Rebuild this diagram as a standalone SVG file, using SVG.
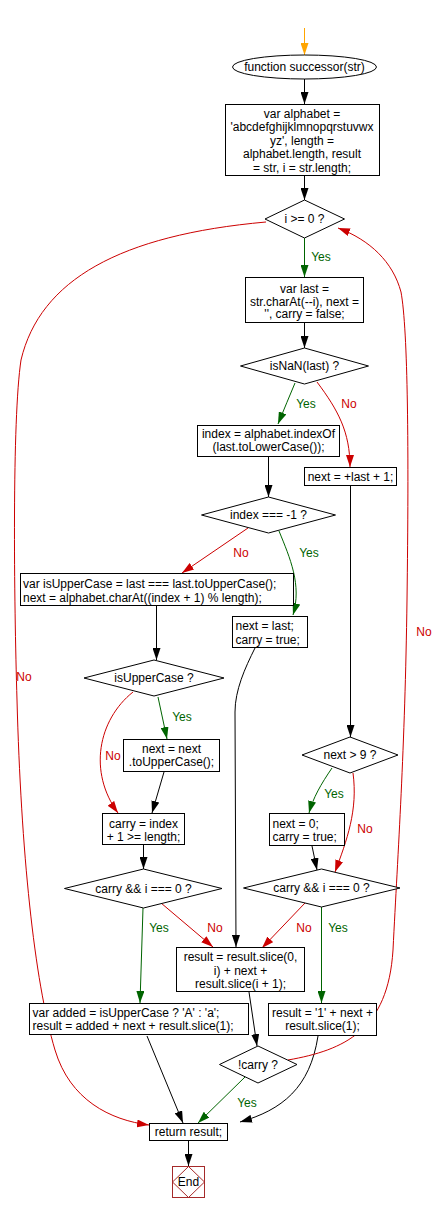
<svg xmlns="http://www.w3.org/2000/svg" width="437" height="1212" viewBox="0 0 437 1212">
<style>
text{font-family:"Liberation Sans",Arial,sans-serif;font-size:12px;fill:#000}
.c{text-anchor:middle}
.s{fill:#fff;stroke:#000;stroke-width:1}
.k{fill:none;stroke:#000;stroke-width:1}
.g{fill:none;stroke:#006400;stroke-width:1}
.r{fill:none;stroke:#cc0000;stroke-width:1}
.o{fill:none;stroke:#ffa500;stroke-width:1}
.gl{fill:#006400;text-anchor:middle}
.rl{fill:#cc0000;text-anchor:middle}
</style>
<defs>
<marker id="ak" viewBox="0 0 12 8" refX="12" refY="4" markerWidth="12" markerHeight="8" markerUnits="userSpaceOnUse" orient="auto"><path d="M0,0 L12,4 L0,8 z" fill="#000"/></marker>
<marker id="ag" viewBox="0 0 12 8" refX="12" refY="4" markerWidth="12" markerHeight="8" markerUnits="userSpaceOnUse" orient="auto"><path d="M0,0 L12,4 L0,8 z" fill="#006400"/></marker>
<marker id="ar" viewBox="0 0 12 8" refX="12" refY="4" markerWidth="12" markerHeight="8" markerUnits="userSpaceOnUse" orient="auto"><path d="M0,0 L12,4 L0,8 z" fill="#cc0000"/></marker>
<marker id="ao" viewBox="0 0 12 8" refX="12" refY="4" markerWidth="12" markerHeight="8" markerUnits="userSpaceOnUse" orient="auto"><path d="M0,0 L12,4 L0,8 z" fill="#ffa500"/></marker>
</defs>
<rect width="437" height="1212" fill="#fff"/>

<g id="connectors">
<path class="o" d="M304.5,28 L304.5,55" marker-end="url(#ao)"/>
<path class="k" d="M304.5,79 L304.5,104" marker-end="url(#ak)"/>
<path class="k" d="M304.5,176 L304.5,200" marker-end="url(#ak)"/>
<path class="g" d="M304.5,238 L304.5,277" marker-end="url(#ag)"/>
<text class="gl" x="321" y="261">Yes</text>
<path class="k" d="M304.5,323 L304.5,348" marker-end="url(#ak)"/>
<path class="g" d="M295,383 Q287,402 278,424" marker-end="url(#ag)"/>
<text class="gl" x="306" y="408">Yes</text>
<path class="r" d="M317,382 C338,410 350,432 350,467" marker-end="url(#ar)"/>
<text class="rl" x="349" y="408">No</text>
<path class="k" d="M268.5,457 L268.5,497" marker-end="url(#ak)"/>
<path class="r" d="M248,528 L182,573" marker-end="url(#ar)"/>
<text class="rl" x="241" y="557">No</text>
<path class="g" d="M279,531 C290,558 302,585 293,615" marker-end="url(#ag)"/>
<text class="gl" x="309" y="557">Yes</text>
<path class="k" d="M156.5,606 L156.5,660" marker-end="url(#ak)"/>
<path class="g" d="M158,697 L167,739" marker-end="url(#ag)"/>
<text class="gl" x="182" y="721">Yes</text>
<path class="r" d="M133,692 C98,720 88,772 118,813" marker-end="url(#ar)"/>
<text class="rl" x="113" y="760">No</text>
<path class="k" d="M164,772 L152,813" marker-end="url(#ak)"/>
<path class="k" d="M143.5,845 L143.5,869" marker-end="url(#ak)"/>
<path class="g" d="M143,908 L140,1003" marker-end="url(#ag)"/>
<text class="gl" x="159" y="932">Yes</text>
<path class="r" d="M161,903 L213,947" marker-end="url(#ar)"/>
<text class="rl" x="215" y="932">No</text>
<path class="k" d="M255,648 C245,668 235,690 235,712 L236,947" marker-end="url(#ak)"/>
<path class="k" d="M350.5,486 L350.5,737" marker-end="url(#ak)"/>
<path class="g" d="M332,768 C321,784 313,798 309,813" marker-end="url(#ag)"/>
<text class="gl" x="334" y="798">Yes</text>
<path class="r" d="M353,773 C358,810 347,840 335,872" marker-end="url(#ar)"/>
<text class="rl" x="365" y="833">No</text>
<path class="k" d="M312,846 L317,870" marker-end="url(#ak)"/>
<path class="r" d="M305,903 L262,948" marker-end="url(#ar)"/>
<text class="rl" x="304" y="932">No</text>
<path class="g" d="M321.5,907 L321.5,1003" marker-end="url(#ag)"/>
<text class="gl" x="338" y="932">Yes</text>
<path class="k" d="M249,992 L257,1046" marker-end="url(#ak)"/>
<path class="k" d="M147,1036 L183,1123" marker-end="url(#ak)"/>
<path class="k" d="M318,1036 C310,1088 282,1110 240,1122" marker-end="url(#ak)"/>
<path class="g" d="M245,1077 L198,1123" marker-end="url(#ag)"/>
<text class="gl" x="247" y="1107">Yes</text>
<path class="r" d="M288,1060 C345,1050 388,1030 393,950 C398,850 405,750 407,600 C409,450 408,330 401,292 C393,262 370,240 338,228" marker-end="url(#ar)"/>
<text class="rl" x="424" y="636">No</text>
<path class="r" d="M266,222 C120,235 40,280 21,360 C12,420 14,600 17,700 C21,850 34,980 55,1050 C70,1100 110,1120 149,1125" marker-end="url(#ar)"/>
<text class="rl" x="24" y="681">No</text>
<path class="k" d="M188.5,1141 L188.5,1166" marker-end="url(#ak)"/>
</g>

<g id="start">
<ellipse class="s" cx="304.5" cy="67" rx="72" ry="12"/>
<text class="c" x="304.5" y="71">function successor(str)</text>
</g>
<g id="init">
<rect class="s" x="225.5" y="104.5" width="154" height="71"/>
<text class="c" x="302" y="117.5">var alphabet =</text>
<text class="c" x="302" y="131">'abcdefghijklmnopqrstuvwx</text>
<text class="c" x="302" y="144.5">yz', length =</text>
<text class="c" x="302" y="158">alphabet.length, result</text>
<text class="c" x="302" y="171.5">= str, i = str.length;</text>
</g>
<g id="loop">
<polygon class="s" points="304.5,200 344.5,219 304.5,238 265,219"/>
<text class="c" x="304.5" y="223">i &gt;= 0 ?</text>
</g>
<g id="last">
<rect class="s" x="245.5" y="277.5" width="118" height="45"/>
<text class="c" x="304.5" y="292.5">var last =</text>
<text class="c" x="304.5" y="305.5">str.charAt(--i), next =</text>
<text class="c" x="304.5" y="318">'', carry = false;</text>
</g>
<g id="isnan">
<polygon class="s" points="304.5,348 368.5,366 304.5,384 240.5,366"/>
<text class="c" x="304.5" y="370">isNaN(last) ?</text>
</g>
<g id="index">
<rect class="s" x="197.5" y="425.5" width="142" height="31"/>
<text class="c" x="268.5" y="437.5">index = alphabet.indexOf</text>
<text class="c" x="268.5" y="451">(last.toLowerCase());</text>
</g>
<g id="plus">
<rect class="s" x="304.5" y="467.5" width="92" height="18"/>
<text class="c" x="350.5" y="480.5">next = +last + 1;</text>
</g>
<g id="notfound">
<polygon class="s" points="268.5,497 335.5,515 268.5,533 201.5,515"/>
<text class="c" x="268.5" y="519">index === -1 ?</text>
</g>
<g id="upper">
<rect class="s" x="20.5" y="573.5" width="273" height="32"/>
<text x="23" y="588">var isUpperCase = last === last.toUpperCase();</text>
<text x="23" y="601.5">next = alphabet.charAt((index + 1) % length);</text>
</g>
<g id="keep">
<rect class="s" x="232.5" y="616.5" width="75" height="31"/>
<text x="235.5" y="630">next = last;</text>
<text x="235.5" y="643.5">carry = true;</text>
</g>
<g id="isupper">
<polygon class="s" points="154,660 224,678 154,696 84,678"/>
<text class="c" x="154" y="682">isUpperCase ?</text>
</g>
<g id="toupper">
<rect class="s" x="123.5" y="739.5" width="96" height="32"/>
<text class="c" x="171.5" y="753">next = next</text>
<text class="c" x="171.5" y="766">.toUpperCase();</text>
</g>
<g id="carry1">
<rect class="s" x="102.5" y="813.5" width="82" height="31"/>
<text class="c" x="143.5" y="828">carry = index</text>
<text class="c" x="143.5" y="841">+ 1 &gt;= length;</text>
</g>
<g id="check1">
<polygon class="s" points="143.5,869 222,888.5 143.5,908 64.5,888.5"/>
<text class="c" x="143.5" y="892.5">carry &amp;&amp; i === 0 ?</text>
</g>
<g id="added">
<rect class="s" x="29.5" y="1003.5" width="219" height="31"/>
<text x="32.5" y="1017">var added = isUpperCase ? 'A' : 'a';</text>
<text x="32.5" y="1030">result = added + next + result.slice(1);</text>
</g>
<g id="next9">
<polygon class="s" points="350,737 398,755 350,773 302,755"/>
<text class="c" x="350" y="759">next &gt; 9 ?</text>
</g>
<g id="zero">
<rect class="s" x="269.5" y="813.5" width="75" height="32"/>
<text x="272.5" y="828">next = 0;</text>
<text x="272.5" y="841">carry = true;</text>
</g>
<g id="check2">
<polygon class="s" points="321.5,869 400,888 321.5,907 243.5,888"/>
<text class="c" x="321.5" y="892">carry &amp;&amp; i === 0 ?</text>
</g>
<g id="slice">
<rect class="s" x="176.5" y="947.5" width="128" height="44"/>
<text class="c" x="240.5" y="961">result = result.slice(0,</text>
<text class="c" x="240.5" y="974.5">i) + next +</text>
<text class="c" x="240.5" y="988">result.slice(i + 1);</text>
</g>
<g id="one">
<rect class="s" x="268.5" y="1003.5" width="108" height="32"/>
<text class="c" x="322.5" y="1017">result = '1' + next +</text>
<text class="c" x="322.5" y="1030">result.slice(1);</text>
</g>
<g id="notcarry">
<polygon class="s" points="258,1046 297,1064.5 258,1083 219.5,1064.5"/>
<text class="c" x="258" y="1068.5">!carry ?</text>
</g>
<g id="return">
<rect class="s" x="149.5" y="1123.5" width="78" height="17"/>
<text class="c" x="188.5" y="1136">return result;</text>
</g>
<g id="end">
<rect x="172.5" y="1166.5" width="32" height="31" fill="#fff" stroke="#a52a2a"/>
<polygon points="188.5,1166.5 204.5,1182 188.5,1197.5 172.5,1182" fill="none" stroke="#a52a2a"/>
<text class="c" x="188.5" y="1186">End</text>
</g>
</svg>
